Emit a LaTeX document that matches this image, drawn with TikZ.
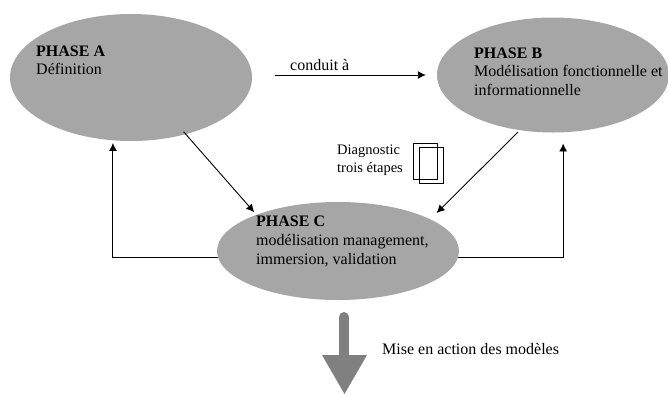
\documentclass[tikz,border=0pt]{standalone}
\usepackage{fontspec}
\setmainfont{Liberation Serif}
\usetikzlibrary{arrows.meta}
\usetikzlibrary{shapes.geometric}
\tikzset{
    phase/.style={ellipse, fill=black!35, inner sep=0pt},
    phasetext/.style={anchor=north west, align=left, inner sep=0pt, font=\fontsize{16}{18.6}\selectfont},
    note/.style={anchor=north west, align=left, inner sep=0pt, font=\fontsize{14.5}{18}\selectfont},
    link/.style={-{Latex[length=8pt,width=8pt]}, line width=0.9pt},
    sheet/.style={draw, line width=0.7pt},
}

\begin{document}
\begin{tikzpicture}[x=1pt, y=-1pt]
    \useasboundingbox (0,0) rectangle (668,394);

    % The three phases
        \node[phase, minimum width=242pt, minimum height=127pt] (phaseA) at (131,77.5) {};
        \node[phase, minimum width=232pt, minimum height=115pt] (phaseB) at (553,75) {};
        \node[phase, minimum width=242pt, minimum height=98pt] (phaseC) at (338,251) {};

    % The texts inside
        \node[phasetext] (textA) at (36,45.5) {\textbf{PHASE A}\\Définition};
        \node[phasetext] (textB) at (474,47.5) {\textbf{PHASE B}\\Modélisation fonctionnelle et\\informationnelle};
        \node[phasetext] (textC) at (256,216) {\textbf{PHASE C}\\modélisation management,\\immersion, validation};

    % Connectors
        \coordinate (start) at (275,75);
        \draw[link, shorten >=11pt] (start) -- (phaseB.west);
        \node[phasetext] (conduit) at (290,59) {conduit à};
        \draw[link, shorten <=-3.4pt, shorten >=3.2pt] (phaseA.-46) -- (phaseC.156.8);
        \draw[link, shorten <=2.5pt, shorten >=8.7pt] (phaseB.-121) -- (phaseC.19.15);
        \draw[link, shorten >=2.5pt] (phaseC.183.3) -| (phaseA.254.9);
        \draw[link, shorten >=11pt] (phaseC.-3.3) -| (phaseB.-80.1);

    % Diagnostic
        \node[note] (diagnostic) at (337,145) {Diagnostic\\trois étapes};
        \draw[sheet] (413,143) rectangle (437,179);
        \draw[sheet] (419,147) rectangle (443,183);

    % The big arrow
        \draw[line width=10pt, black!50, line cap=round] (344,317) -- (344,356);
        \fill[black!50] (322,355) -- (367,355) -- (344.5,394) -- cycle;
        \node[phasetext] (mise) at (382,343.5) {Mise en action des modèles};
\end{tikzpicture}
\end{document}
